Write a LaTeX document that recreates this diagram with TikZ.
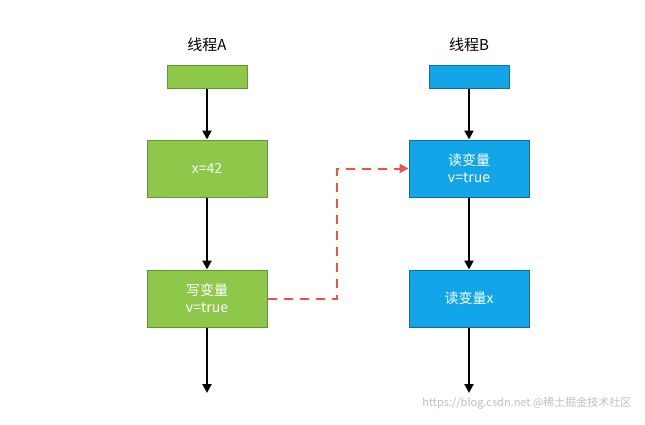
\documentclass[tikz,border=0pt]{standalone}
\usepackage{fontspec}
\setmainfont{Noto Sans CJK SC}
\usetikzlibrary{arrows.meta}
\definecolor{gfill}{HTML}{8DC84B}
\definecolor{gdraw}{HTML}{5E9A2A}
\definecolor{bfill}{HTML}{12A6E8}
\definecolor{bdraw}{HTML}{0B6EA8}
\definecolor{rline}{HTML}{E8534A}
\tikzset{x=1pt,y=-1pt,
 gbox/.style={draw=gdraw,fill=gfill,line width=1pt,minimum width=120pt,minimum height=57pt,text=white,font=\fontsize{14}{17}\selectfont,align=center,inner sep=0pt},
 bbox/.style={gbox,draw=bdraw,fill=bfill},
 small/.style={minimum width=80pt,minimum height=23pt},
 arr/.style={-{Triangle[length=9pt,width=9pt]},line width=2pt,black},
 title/.style={font=\fontsize{15}{18}\selectfont,text=black}}
\begin{document}
\begin{tikzpicture}
\useasboundingbox (0,0) rectangle (645,424);
\node[title] (ta) at (207,45) {线程A};
\node[title] (tb) at (469,45) {线程B};
\node[gbox,small] (a0) at (207,76.5) {};
\node[gbox] (a1) at (207,168.5) {x=42};
\node[gbox] (a2) at (207,298.5) {写变量\\v=true};
\coordinate (ae) at (207,393);
\node[bbox,small] (b0) at (469,76.5) {};
\node[bbox] (b1) at (469,168.5) {读变量\\v=true};
\node[bbox] (b2) at (469,298.5) {读变量x};
\coordinate (be) at (469,393);
\draw[arr] (a0) -- (a1);
\draw[arr] (a1) -- (a2);
\draw[arr] (a2) -- (ae);
\draw[arr] (b0) -- (b1);
\draw[arr] (b1) -- (b2);
\draw[arr] (b2) -- (be);
\coordinate (m1) at (337,298.5);
\coordinate (m2) at (337,168.5);
\draw[rline,line width=2pt,dash pattern=on 9pt off 7pt,-{Triangle[length=9pt,width=9pt]}] (a2.east) -- (m1) -- (m2) -- (b1.west);
\node[text=gray!50,font=\fontsize{11}{13}\selectfont,anchor=east] (wm) at (635,403) {https://blog.csdn.net @稀土掘金技术社区};
\end{tikzpicture}
\end{document}
